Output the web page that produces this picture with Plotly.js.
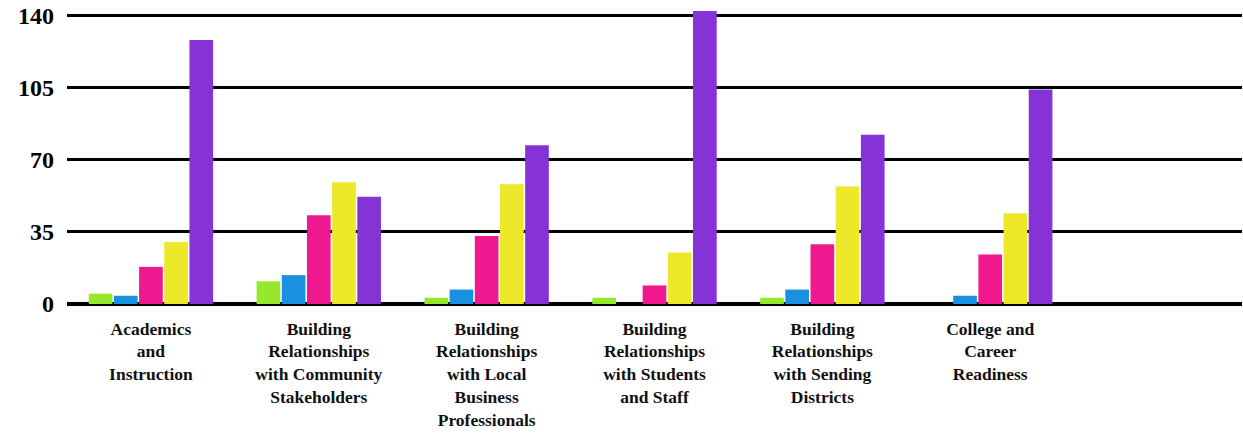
<!DOCTYPE html>
<html>
<head>
<meta charset="utf-8">
<script src="https://cdn.plot.ly/plotly-3.0.1.min.js"></script>
<style>html,body{margin:0;padding:0;background:#fff;}#chart{width:1243px;height:434px;}</style>
</head>
<body>
<div id="chart"></div>
<script>
const categories = [
  "Academics<br>and<br>Instruction",
  "Building<br>Relationships<br>with Community<br>Stakeholders",
  "Building<br>Relationships<br>with Local<br>Business<br>Professionals",
  "Building<br>Relationships<br>with Students<br>and Staff",
  "Building<br>Relationships<br>with Sending<br>Districts",
  "College and<br>Career<br>Readiness"
];
const seriesNames = ["Series 1", "Series 2", "Series 3", "Series 4", "Series 5"];
const greenValues  = [5, 11, 3, 3, 3, 0];
const blueValues   = [4, 14, 7, 0, 7, 4];
const pinkValues   = [18, 43, 33, 9, 29, 24];
const yellowValues = [30, 59, 58, 25, 57, 44];
const purpleValues = [128, 52, 77, 142, 82, 104];
const yTicks = [0, 35, 70, 105, 140];

const colors = ["#97e82c", "#1a91e0", "#f0188f", "#ede82a", "#8533d6"];
const allValues = [greenValues, blueValues, pinkValues, yellowValues, purpleValues];

const traces = allValues.map((vals, i) => ({
  type: "bar",
  name: seriesNames[i],
  x: categories,
  y: vals,
  marker: { color: colors[i], line: { width: 0 } },
  hoverinfo: "y"
}));

const layout = {
  width: 1243,
  height: 434,
  margin: { l: 67, r: 1, t: 9, b: 130 },
  paper_bgcolor: "#ffffff",
  plot_bgcolor: "#ffffff",
  showlegend: false,
  barmode: "group",
  bargap: 0.25,
  bargroupgap: 0.06,
  xaxis: {
    type: "category",
    range: [-0.5, 6.5],
    showgrid: false,
    showline: false,
    zeroline: false,
    ticks: "",
    tickangle: 0,
    ticklabelstandoff: 12,
    tickfont: { family: "Liberation Serif", size: 17.5, color: "#111111", weight: "bold" }
  },
  yaxis: {
    range: [0, 143],
    tickvals: yTicks,
    ticktext: yTicks.map(String),
    showgrid: true,
    gridcolor: "#000000",
    gridwidth: 3,
    zeroline: true,
    zerolinecolor: "#000000",
    zerolinewidth: 4,
    showline: false,
    ticks: "",
    ticklabelstandoff: 12,
    tickfont: { family: "Liberation Serif", size: 24, color: "#000000", weight: "bold" }
  }
};

Plotly.newPlot("chart", traces, layout, { displayModeBar: false, staticPlot: true });
</script>
</body>
</html>
